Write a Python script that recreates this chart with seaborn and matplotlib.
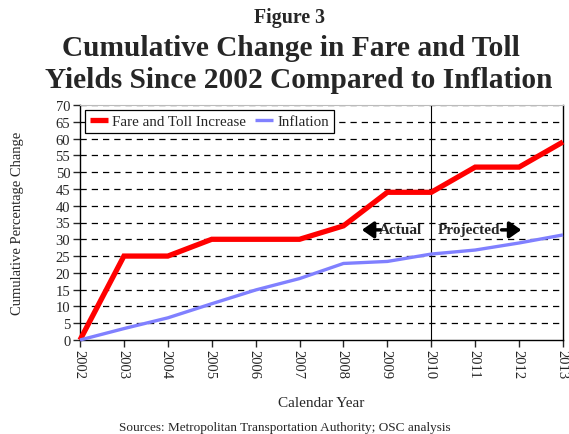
import matplotlib
matplotlib.use("Agg")
import matplotlib.pyplot as plt
import matplotlib.transforms as mtransforms
import numpy as np
import pandas as pd
import seaborn as sns

years = [2002, 2003, 2004, 2005, 2006, 2007, 2008, 2009, 2010, 2011, 2012, 2013]
fare_toll = [0, 25, 25, 30, 30, 30, 34, 44, 44, 51.5, 51.5, 59]
inflation = [0, 3.4, 6.6, 10.8, 14.9, 18.3, 22.8, 23.4, 25.6, 26.8, 28.9, 31.3]
y_ticks = list(range(0, 75, 5))

df = pd.DataFrame({"year": years, "Fare and Toll Increase": fare_toll, "Inflation": inflation})
long_df = df.melt(id_vars="year", var_name="series", value_name="change")


def main() -> None:
	sns.set_style("ticks")
	plt.rcParams["font.family"] = ["Liberation Serif", "DejaVu Serif"]

	fig = plt.figure(figsize=(5.69, 4.35), dpi=100)
	ax = fig.add_axes([80 / 569, 1 - 341 / 435, (563 - 80) / 569, (341 - 106) / 435])

	palette = {"Fare and Toll Increase": "#ff0000", "Inflation": "#8080ff"}
	sizes = {"Fare and Toll Increase": 3.8, "Inflation": 2.4}
	for name in ["Fare and Toll Increase", "Inflation"]:
		sub = long_df[long_df["series"] == name]
		sns.lineplot(data=sub, x="year", y="change", color=palette[name],
			linewidth=sizes[name], label=name, ax=ax, zorder=3, clip_on=False,
			solid_joinstyle="miter", solid_capstyle="butt")

	ax.set_xlim(2002, 2013)
	ax.set_ylim(0, 70)
	ax.set_yticks(y_ticks)
	ax.set_xticks(years)
	ax.set_xticklabels([])
	# rotated year labels placed by hand so the last one stays inside the figure
	lab_trans = ax.get_xaxis_transform() + mtransforms.ScaledTranslation(0, -9 / 100, fig.dpi_scale_trans)
	for yr in years:
		ax.text(yr, 0, str(yr), transform=lab_trans, rotation=-90, rotation_mode="anchor",
			ha="left", va="center_baseline", fontsize=10.5)
	ax.tick_params(axis="y", labelsize=10.5, direction="out", length=5, width=1, pad=2)
	ax.tick_params(axis="x", direction="out", length=5, width=1, pad=3)
	for y in y_ticks[1:]:
		ax.axhline(y, color="black", linestyle=(0, (5, 4)), linewidth=0.9, zorder=1)
	ax.axvline(2010, color="black", linewidth=0.8, zorder=2)

	for side in ["left", "bottom", "right"]:
		ax.spines[side].set_color("black")
		ax.spines[side].set_linewidth(1)
	ax.spines["top"].set_color("#bbbbbb")
	ax.spines["top"].set_linewidth(0.8)

	ax.set_xlabel("Calendar Year", fontsize=11)
	ax.xaxis.set_label_coords(0.5, -(397 - 341) / 235)
	ax.set_ylabel("Cumulative Percentage Change", fontsize=10.5)
	ax.yaxis.set_label_coords(-0.115, 0.5)

	ax.annotate("", xy=(2008.42, 32.8), xytext=(2008.85, 32.8),
		arrowprops=dict(arrowstyle="-|>,head_length=0.5,head_width=0.35", color="black",
			lw=2.5, mutation_scale=14, shrinkA=0, shrinkB=0))
	ax.text(2009.29, 32.8, "Actual", fontsize=11, fontweight="bold", ha="center", va="center")
	ax.text(2010.86, 32.8, "Projected", fontsize=11, fontweight="bold", ha="center", va="center")
	ax.annotate("", xy=(2012.05, 32.8), xytext=(2011.6, 32.8),
		arrowprops=dict(arrowstyle="-|>,head_length=0.5,head_width=0.35", color="black",
			lw=2.5, mutation_scale=14, shrinkA=0, shrinkB=0))

	leg = ax.legend(loc="upper left", ncol=2, fontsize=10.8, frameon=True, fancybox=False,
		edgecolor="black", framealpha=1, borderpad=0.3, handlelength=1.2,
		columnspacing=0.6, handletextpad=0.3, borderaxespad=0.35)
	leg.get_frame().set_linewidth(0.9)

	fig.text(290 / 569, 1 - 18 / 435, "Figure 3", fontsize=14.3, fontweight="bold", ha="center", va="center")
	fig.text(291 / 569, 1 - 48 / 435, "Cumulative Change in Fare and Toll", fontsize=21.2,
		fontweight="bold", ha="center", va="center")
	fig.text(299 / 569, 1 - 81 / 435, "Yields Since 2002 Compared to Inflation", fontsize=21.2,
		fontweight="bold", ha="center", va="center")
	fig.text(0.5, 1 - 428 / 435, "Sources: Metropolitan Transportation Authority; OSC analysis",
		fontsize=9.5, ha="center", va="center")

	fig.savefig("out.png", dpi=100)
	plt.close(fig)


if __name__ == "__main__":
	main()
